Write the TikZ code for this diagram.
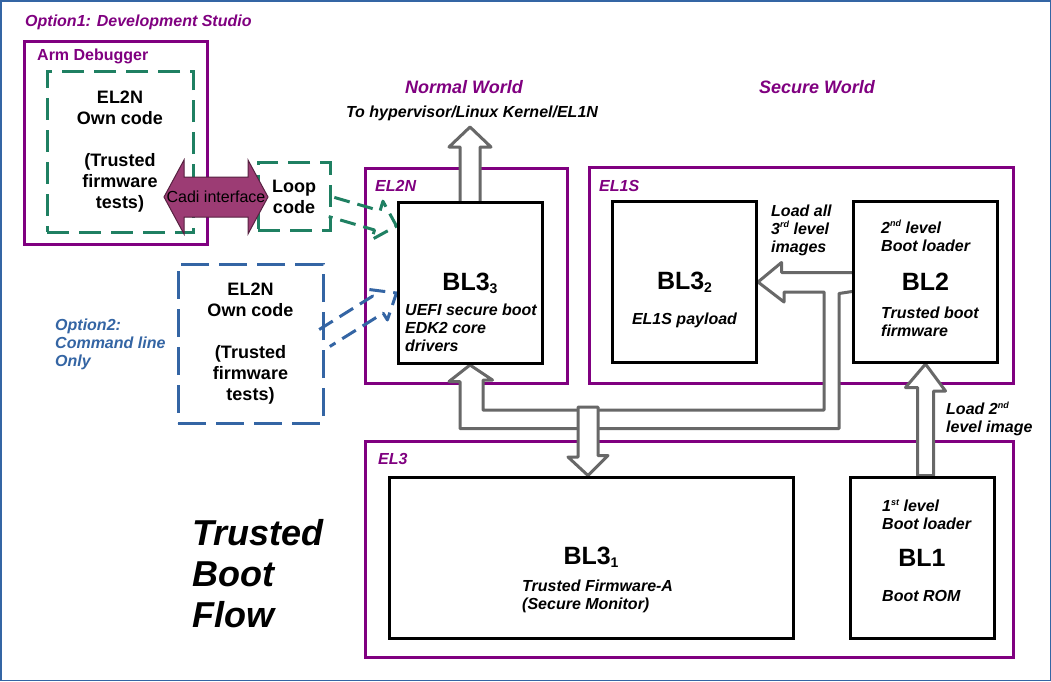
\documentclass[tikz,border=0pt]{standalone}
\usepackage{fontspec}
\setmainfont{Liberation Sans}
\usetikzlibrary{positioning, calc, backgrounds}
\definecolor{elpurple}{RGB}{128,0,128}
\definecolor{dbggreen}{RGB}{31,128,98}
\definecolor{cliblue}{RGB}{52,101,164}
\definecolor{cadipink}{RGB}{156,60,116}
\definecolor{arrgray}{RGB}{104,104,104}
\newcommand\supx[1]{\raisebox{0.42em}{\fontsize{9}{9}\selectfont #1}}
\newcommand\subx[1]{\raisebox{-0.12em}{\fontsize{14}{14}\selectfont #1}}

\begin{document}
\begin{tikzpicture}[x=1pt, y=1pt,
  frame/.style={draw=elpurple, line width=3pt, inner sep=0pt},
  blbox/.style={draw=black, line width=3pt, fill=white, inner sep=0pt, minimum width=144pt, minimum height=161pt, font=\bfseries\fontsize{25}{28}\selectfont},
  dashbox/.style={line width=3pt, dash pattern=on 22pt off 10pt, inner sep=0pt, align=center, font=\bfseries\fontsize{18}{21}\selectfont},
  blockarr/.style={draw=arrgray, line width=3pt, fill=white, line join=round},
  dasharr/.style={line width=3pt, dash pattern=on 16pt off 8pt, line join=round},
  lbl/.style={inner sep=0pt, align=left, font=\bfseries\itshape\fontsize{16}{18}\selectfont},
  ttl/.style={lbl, text=elpurple},
]
  \useasboundingbox (0,0) rectangle (1051,-681);

  % boot stages
  \node[blbox] (blthree3) at (470,-283) {BL3\subx{3}};
  \node[blbox] (blthree2) at (684.5,-282) {BL3\subx{2}};
  \node[blbox] (bltwo) at (925.5,-282) {BL2};
  \node[blbox, minimum width=404pt] (blthree1) at (591,-557.5) {BL3\subx{1}};
  \node[blbox] (blone) at (922,-557.5) {BL1};

  % option 1 / option 2
  \node[frame, minimum width=183pt, minimum height=203pt] (armdbg) at (115.5,-142.5) {};
  \node[dashbox, draw=dbggreen, minimum width=146pt, minimum height=161pt] (optone) at (120,-151.5) {EL2N\\Own code\\[21pt](Trusted\\firmware\\tests)};
  \node[dashbox, draw=dbggreen, minimum width=72pt, minimum height=68pt] (loop) at (294,-196.5) {Loop\\code};
  \node[dashbox, draw=cliblue, dash pattern=on 28pt off 10pt, minimum width=145pt, minimum height=159pt] (opttwo) at (250.5,-343.5) {EL2N\\Own code\\[21pt](Trusted\\firmware\\tests)};

  \coordinate (cadimid) at (216,-197);
  \draw[fill=cadipink, draw=cadipink!55!black, line width=1pt] ($(cadimid)+(-52,0)$) -- ++(20,37) -- ++(0,-17) -- ++(64,0) -- ++(0,17) -- ++(20,-37) -- ++(-20,-37) -- ++(0,17) -- ++(-64,0) -- ++(0,-17) -- cycle;
  \node[inner sep=0pt, font=\fontsize{16}{18}\selectfont] (cadi) at (cadimid) {Cadi interface};

  \begin{scope}[on background layer]
    \draw[cliblue, line width=1.5pt, fill=white] (0.75,-0.75) rectangle (1050.25,-680.25);
    \node[frame, minimum width=202pt, minimum height=215pt] (eltwon) at (466,-275.5) {};
    \node[frame, minimum width=424pt, minimum height=216pt] (elones) at (801,-275) {};
    \node[frame, minimum width=648pt, minimum height=216pt] (elthree) at (689,-549) {};

    % load arrows
    \draw[blockarr] ($(blthree3.north)+(-10,0)$) -- ++(0,54) -- ++(-11,0) -- ($(blthree3.north)+(0,74)$) -- ++(21,-20) -- ++(-11,0) -- ($(blthree3.north)+(10,0)$);
    \draw[blockarr] ($(bltwo.west)+(0,9.5)$) -- ++(-70.5,0) -- ++(0,10) -- (blthree2.east) -- ++(26,-20) -- ++(0,10) -- ++(40,0) -- ++(0,-118) -- ++(-341,0) -- ++(0,30) -- ++(9.5,0) -- (blthree3.south) -- ++(-21,-16.5) -- ++(11,0) -- ++(0,-47) -- ++(379,0) -- ++(0,135) -- ($(bltwo.west)+(0,-9.5)$);
    \coordinate (dtop) at (588,-407);
    \draw[blockarr] ($(dtop)+(10,0)$) -- ($(dtop)+(-10,0)$) -- ++(0,-50) -- ++(-10,0) -- (dtop |- blthree1.north) -- ++(20,20) -- ++(-10,0) -- cycle;
    \draw[blockarr] (bltwo.south) -- ++(20,-27) -- ++(-12,0) -- ($(bltwo.south |- blone.north)+(8,0)$) -- ($(bltwo.south |- blone.north)+(-8,0)$) -- ++(0,88) -- ++(-12,0) -- cycle;

    % dashed hand-over arrows
    \coordinate (gtail) at ($(loop.east)+(0,-10.5)$);
    \coordinate (gtip) at ($(blthree3.west)+(0,57)$);
    \coordinate (ghead) at ($(gtip)!20pt!(gtail)$);
    \draw[dasharr, dbggreen] ($(gtail)!10pt!90:(gtip)$) -- ($(ghead)!10pt!90:(gtip)$) -- ($(ghead)!20pt!90:(gtip)$) -- (gtip) -- ($(ghead)!20pt!-90:(gtip)$) -- ($(ghead)!10pt!-90:(gtip)$) -- ($(gtail)!10pt!-90:(gtip)$);
    \coordinate (btail) at ($(opttwo.east)+(0,5.5)$);
    \coordinate (btip) at ($(blthree3.west)+(0,-10)$);
    \coordinate (bhead) at ($(btip)!22pt!(btail)$);
    \draw[dasharr, cliblue] ($(btail)!10pt!90:(btip)$) -- ($(bhead)!10pt!90:(btip)$) -- ($(bhead)!18pt!90:(btip)$) -- (btip) -- ($(bhead)!18pt!-90:(btip)$) -- ($(bhead)!10pt!-90:(btip)$) -- ($(btail)!10pt!-90:(btip)$);
  \end{scope}

  % labels
  \node[ttl, anchor=west] (opt1lbl) at (25,-22) {Option1: Development Studio};
  \node[ttl, anchor=west, font=\bfseries\fontsize{16}{18}\selectfont] (armlbl) at (37,-56) {Arm Debugger};
  \node[lbl, anchor=west, text=cliblue] (opt2lbl) at (55,-344) {Option2:\\Command line\\Only};
  \node[ttl, font=\bfseries\itshape\fontsize{18}{21}\selectfont] (normal) at (464,-87) {Normal World};
  \node[ttl, font=\bfseries\itshape\fontsize{18}{21}\selectfont] (secure) at (817,-87) {Secure World};
  \node[lbl] (tohyp) at (472,-113) {To hypervisor/Linux Kernel/EL1N};
  \node[ttl, anchor=west] (eltwonlbl) at (375,-186) {EL2N};
  \node[ttl, anchor=west] (eloneslbl) at (599,-186) {EL1S};
  \node[ttl, anchor=west] (elthreelbl) at (378,-459) {EL3};
  \node[lbl, anchor=west] (uefi) at (405,-328) {UEFI secure boot\\EDK2 core\\drivers};
  \node[lbl] (payload) at (684.5,-320) {EL1S payload};
  \node[lbl, anchor=west] (loadall) at (771,-230.5) {Load all\\3\supx{rd} level\\images};
  \node[lbl, anchor=west] (bltwotop) at (881,-235.5) {2\supx{nd} level\\Boot loader};
  \node[lbl, anchor=west] (bltwobot) at (881,-322) {Trusted boot\\firmware};
  \node[lbl, anchor=west] (loadtwo) at (946,-419) {Load 2\supx{nd}\\level image};
  \node[lbl, anchor=west] (blonetop) at (882,-514.5) {1\supx{st} level\\Boot loader};
  \node[lbl, anchor=west] (rom) at (882,-596) {Boot ROM};
  \node[lbl, anchor=west] (tfa) at (522,-596) {Trusted Firmware-A\\(Secure Monitor)};
  \node[lbl, anchor=west, font=\bfseries\itshape\fontsize{36}{41}\selectfont] (tbf) at (192,-574) {Trusted\\Boot\\Flow};
\end{tikzpicture}
\end{document}
